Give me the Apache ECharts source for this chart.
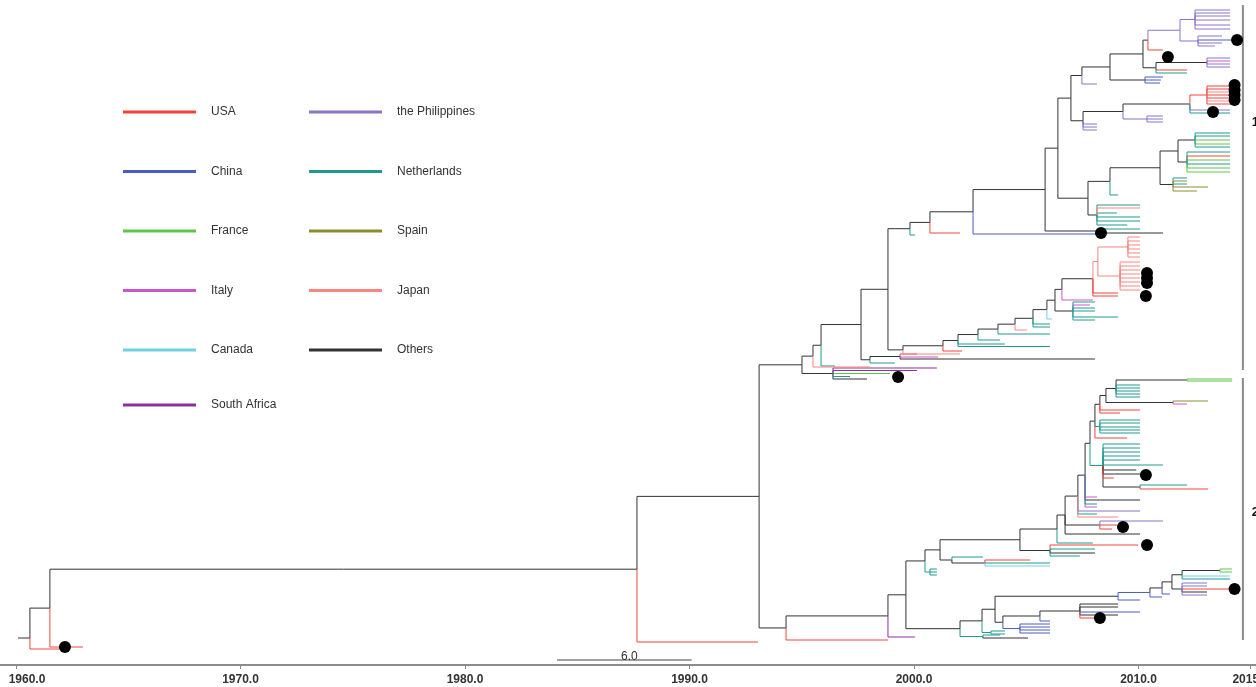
<!DOCTYPE html>
<html><head><meta charset="utf-8">
<script src="https://cdn.jsdelivr.net/npm/echarts@6/dist/echarts.min.js"></script>
<style>html,body{margin:0;padding:0;background:#fff}#c{width:1256px;height:687px}</style>
</head><body><div id="c"></div>
<script>
// ---------- DATA ----------
const countryNames  = ["USA","China","France","Italy","Canada","South Africa","the Philippines","Netherlands","Spain","Japan","Others"];
const countryCodes  = ["U","C","F","I","CA","SA","P","N","E","J","O"];
const countryColors = ["#f0443a","#4b5cbf","#5ec44b","#cc55cc","#72d0e2","#8e2f9e","#8a74c8","#1f9a90","#8c8c2e","#f88580","#333333"];

const tickYears = [1960,1970,1980,1990,2000,2010,2015];
const rootStemStart = 1960.09;

// branch = [nodeId ('-' for tip), parentId, time (year), country code, row (tips / override)]
const rootBranches = [
 ["N1",null,1960.62,"O",638],
 ["-","N1",1961.96,"U",649],
 ["N2","N1",1961.51,"O"],
 ["-","N2",1962.98,"U",647],
 ["D","N2",1987.66,"O"],
 ["-","D",1993.05,"U",642],
 ["E","D",1993.10,"O"],
 ["K","E",1995.01,"O"],
 ["F","E",1994.30,"O"]
];

const clade1Branches = [
 ["L","K",1995.50,"O"],
 ["K2","K",1996.39,"O"],
 ["-","K2",2001.02,"SA",368],
 ["-","K2",2000.13,"SA",370.5],
 ["-","K2",1998.93,"F",373.5],
 ["-","K2",1997.15,"N",376.5],
 ["-","K2",1997.91,"O",379],
 ["L1","L",1995.86,"O"],
 ["-","L",1998.04,"J",367],
 ["-","L1",1996.48,"N",366],
 ["N861","L1",1997.64,"O"],
 ["C362","N861",1998.04,"O"],
 ["C2","C362",1999.38,"O"],
 ["-","C2",2000.13,"U",354],
 ["-","C2",2001.07,"I",357],
 ["-","C2",2008.06,"O",359],
 ["-","C362",1999.15,"N",363],
 ["N888","N861",1998.84,"O"]
];

const japanLadderBranches = [
 ["JL0","N888",1999.51,"O"],
 ["JL1","JL0",2001.29,"O"],
 ["-","JL0",2002.05,"J",354],
 ["JL2","JL1",2001.96,"O"],
 ["-","JL1",2002.14,"U",351],
 ["JL3","JL2",2002.85,"O"],
 ["-","JL2",2004.05,"N",344],
 ["-","JL2",2006.06,"N",346.5],
 ["JL4","JL3",2003.74,"O"],
 ["-","JL3",2003.83,"N",340],
 ["JL5","JL4",2004.50,"O"],
 ["-","JL4",2006.06,"N",334],
 ["JL6","JL5",2005.30,"O"],
 ["-","JL5",2005.03,"J",330],
 ["JL8","JL6",2005.92,"O"],
 ["-","JL6",2006.06,"N",324],
 ["-","JL6",2006.06,"N",327],
 ["JL9","JL8",2006.28,"O"],
 ["-","JL8",2006.15,"CA",319],
 ["JL10","JL9",2006.59,"O"],
 ["JL11","JL9",2007.08,"O"],
 ["-","JL11",2008.06,"N",302],
 ["-","JL11",2007.84,"I",305],
 ["-","JL11",2008.06,"N",308],
 ["-","JL11",2008.06,"N",311],
 ["-","JL11",2009.09,"N",317],
 ["-","JL11",2008.06,"N",320],
 ["-","JL10",2007.97,"I",300],
 ["JL12","JL10",2007.97,"O"],
 ["-","JL12",2009.09,"U",293],
 ["-","JL12",2009.09,"U",296],
 ["JP","JL12",2008.19,"J"],
 ["JP1","JP",2009.18,"J"],
 ["JP2","JP",2009.53,"J"],
 ["-","JP1",2010.07,"J",262],["-","JP1",2010.07,"J",266],["-","JP1",2010.07,"J",270],["-","JP1",2010.07,"J",274],
 ["-","JP1",2010.07,"J",278],["-","JP1",2010.07,"J",282],["-","JP1",2010.07,"J",286],["-","JP1",2010.07,"J",290],
 ["-","JP2",2010.07,"J",237],["-","JP2",2010.07,"J",241],["-","JP2",2010.07,"J",245],
 ["-","JP2",2010.07,"J",249],["-","JP2",2010.07,"J",253],["-","JP2",2010.07,"J",257]
];

const clade1TopBranches = [
 ["n910","N888",1999.82,"O"],
 ["-","n910",2000.04,"N",235],
 ["n930","n910",2000.71,"O"],
 ["-","n930",2002.05,"U",233],
 ["n973","n930",2002.63,"O"],
 ["-","n973",2008.28,"C",234],
 ["n1045","n973",2005.84,"O"],
 ["n1100","n1045",2008.28,"O"],
 ["-","n1100",2011.09,"O",233],
 ["-","n1100",2010.07,"N",229],
 ["n1058","n1045",2006.41,"O"],
 ["n1088","n1058",2007.75,"O"],
 ["n1100b","n1088",2008.15,"O"],
 ["-","n1100b",2010.07,"N",205],
 ["-","n1100b",2010.07,"J",208],
 ["-","n1100b",2009.04,"N",213],
 ["-","n1100b",2010.07,"N",217],
 ["-","n1100b",2010.07,"N",221],
 ["-","n1100b",2009.50,"N",225],
 ["n1110","n1088",2008.73,"O"],
 ["-","n1110",2009.09,"N",195],
 ["n1160","n1110",2010.96,"O"],
 ["nA1","n1160",2011.76,"O"],
 ["nA1a","nA1",2012.52,"O"],
 ["-","nA1a",2014.08,"N",133],["-","nA1a",2014.08,"N",136],["-","nA1a",2014.08,"F",140],
 ["-","nA1a",2014.08,"F",144],["-","nA1a",2014.08,"N",147],
 ["nA1b","nA1",2012.16,"O"],
 ["-","nA1b",2014.08,"N",152],["-","nA1b",2014.08,"U",156],["-","nA1b",2014.08,"F",160],
 ["-","nA1b",2014.08,"N",164],["-","nA1b",2014.08,"F",168],["-","nA1b",2014.08,"F",172],
 ["nA2","n1160",2011.54,"O"],
 ["-","nA2",2012.16,"N",178],["-","nA2",2012.16,"E",181],["-","nA2",2012.16,"N",184],
 ["-","nA2",2013.10,"E",187],["-","nA2",2012.60,"E",191],
 ["n1071","n1058",2006.99,"O"],
 ["n1083","n1071",2007.53,"O"],
 ["-","n1083",2008.15,"P",124],["-","n1083",2008.15,"P",127],["-","n1083",2008.15,"P",130],
 ["n1123","n1083",2009.31,"O"],
 ["n1147","n1123",2010.38,"P"],
 ["-","n1147",2011.09,"P",116],["-","n1147",2011.09,"P",119],["-","n1147",2011.09,"P",122],
 ["n1190","n1123",2012.29,"O"],
 ["-","n1190",2014.08,"P",110],
 ["-","n1190",2014.08,"N",113],
 ["n1207","n1190",2013.05,"U"],
 ["-","n1207",2014.21,"U",86],["-","n1207",2014.21,"U",89],["-","n1207",2014.21,"J",92],
 ["-","n1207",2014.21,"U",95],["-","n1207",2014.21,"U",98],["-","n1207",2014.21,"J",101],
 ["-","n1207",2014.21,"U",104],
 ["n1082","n1071",2007.48,"O"],
 ["-","n1082",2008.15,"P",84],
 ["nU1","n1082",2008.73,"O"],
 ["nU3","nU1",2010.29,"O"],
 ["-","nU3",2011.09,"C",77],["-","nU3",2011.00,"C",80],["-","nU3",2010.96,"C",83],
 ["nU2","nU1",2010.20,"O"],
 ["nU5","nU2",2010.78,"O"],
 ["-","nU5",2012.16,"U",70],
 ["-","nU5",2012.16,"N",73],
 ["n1207b","nU5",2013.05,"O"],
 ["-","n1207b",2014.08,"P",58],["-","n1207b",2014.08,"I",61],
 ["-","n1207b",2014.08,"P",64],["-","n1207b",2014.08,"P",67],
 ["nU4","nU2",2010.42,"O"],
 ["-","nU4",2011.09,"U",50],
 ["nU6","nU4",2011.85,"P"],
 ["nP1","nU6",2012.52,"P"],
 ["-","nP1",2014.08,"P",10],["-","nP1",2014.08,"P",13],["-","nP1",2014.08,"P",16],
 ["-","nP1",2014.08,"P",20],["-","nP1",2014.08,"P",25],["-","nP1",2014.08,"P",29],
 ["nP2","nU6",2012.65,"P"],
 ["-","nP2",2013.72,"P",36],["-","nP2",2014.21,"C",40],
 ["-","nP2",2013.72,"P",43],["-","nP2",2013.41,"P",46]
];

const clade2Branches = [
 ["G","F",1998.84,"O"],
 ["-","F",1998.84,"U",640],
 ["H","G",1999.64,"O"],
 ["-","G",2000.04,"SA",637],
 ["I","H",2000.49,"O"],
 ["P","H",2002.05,"O"],
 ["Q","P",2003.03,"O"],
 ["P3","P",2003.07,"N"],
 ["-","P3",2005.08,"O",638],
 ["-","P3",2003.83,"N",635],
 ["S","Q",2003.61,"O"],
 ["Q2","Q",2003.43,"N"],
 ["-","Q2",2004.05,"N",631],
 ["-","Q2",2004.05,"N",634],
 ["CN","S",2003.96,"O"],
 ["CN1","CN",2004.72,"C"],
 ["-","CN1",2006.06,"C",624],["-","CN1",2006.06,"C",627],
 ["-","CN1",2006.06,"C",630],["-","CN1",2006.06,"C",633],
 ["CN2","CN",2005.61,"O"],
 ["-","CN2",2006.06,"C",621],
 ["CN3","CN2",2007.39,"O"],
 ["-","CN3",2009.09,"O",604],
 ["-","CN3",2009.09,"O",607],
 ["-","CN3",2010.07,"C",612],
 ["-","CN3",2009.09,"O",615],
 ["-","CN3",2008.37,"U",618],
 ["T","S",2009.09,"O"],
 ["-","T",2010.07,"C",600],
 ["T2","T",2010.51,"C"],
 ["-","T2",2011.05,"C",597],
 ["T3","T2",2011.05,"O"],
 ["-","T3",2011.40,"C",594],
 ["T4","T3",2011.49,"O"],
 ["T5","T4",2011.94,"O"],
 ["T5a","T5",2013.63,"O"],
 ["-","T5a",2014.17,"F",569],
 ["-","T5a",2014.17,"F",572],
 ["-","T5",2014.08,"CA",576],
 ["-","T5",2014.08,"N",579],
 ["T6","T4",2011.94,"O"],
 ["-","T6",2013.05,"P",583],["-","T6",2013.05,"P",586],["-","T6",2014.21,"U",589],
 ["-","T6",2013.05,"O",592],["-","T6",2013.05,"P",595]
];

const clade2LadderBranches = [
 ["Ia","I",2000.71,"N"],
 ["-","Ia",2001.02,"N",569],["-","Ia",2001.02,"N",572],["-","Ia",2001.02,"N",575],
 ["I2","I",2001.16,"O"],
 ["M2","I2",2001.69,"O"],
 ["-","M2",2003.07,"N",557],
 ["M3","M2",2003.16,"O"],
 ["-","M3",2005.17,"U",560],
 ["-","M3",2006.06,"N",563],
 ["-","M3",2006.06,"CA",566],
 ["J","I2",2004.72,"O"],
 ["J2","J",2006.06,"O"],
 ["-","J2",2009.98,"U",545],
 ["-","J2",2008.06,"N",549],
 ["-","J2",2008.06,"O",553],
 ["-","J2",2007.39,"N",556],
 ["Z1","J",2006.37,"O"],
 ["-","Z1",2007.97,"N",543],
 ["Z2","Z1",2006.73,"O"],
 ["-","Z2",2010.07,"O",534],
 ["Z2b","Z2",2008.28,"O"],
 ["-","Z2b",2011.09,"P",521],
 ["-","Z2b",2009.04,"U",525],
 ["-","Z2b",2008.82,"U",529],
 ["Z3","Z2",2007.30,"O"],
 ["-","Z3",2010.07,"P",511],
 ["-","Z3",2008.15,"N",514],
 ["-","Z3",2009.09,"J",517],
 ["Z4","Z3",2007.62,"O"],
 ["-","Z4",2010.07,"O",500],
 ["-","Z4",2008.15,"I",497],
 ["-","Z4",2008.15,"N",504],
 ["-","Z4",2008.15,"I",507],
 ["Z5","Z4",2007.84,"O"],
 ["Z5b","Z5",2008.42,"N"],
 ["-","Z5b",2010.07,"N",444],["-","Z5b",2010.07,"N",448],["-","Z5b",2010.07,"N",452],
 ["-","Z5b",2010.07,"N",456],["-","Z5b",2010.07,"N",460],["-","Z5b",2011.09,"N",465],
 ["-","Z5b",2009.90,"O",470],["-","Z5b",2010.07,"O",474],["-","Z5b",2008.90,"U",478],
 ["Z5c","Z5b",2010.07,"O"],
 ["-","Z5c",2012.16,"N",485],
 ["-","Z5c",2013.10,"U",489],
 ["Z6","Z5",2008.06,"O"],
 ["-","Z6",2009.49,"U",438],
 ["Z6b","Z6",2008.28,"N"],
 ["-","Z6b",2010.07,"N",420],["-","Z6b",2010.07,"N",423],["-","Z6b",2010.07,"N",427],
 ["-","Z6b",2010.07,"N",430],["-","Z6b",2010.07,"N",433],
 ["Z7","Z6",2008.28,"O"],
 ["-","Z7",2010.07,"U",410],
 ["-","Z7",2009.18,"U",413],
 ["Z8","Z7",2008.55,"O"],
 ["Z8b","Z8",2011.54,"O"],
 ["-","Z8b",2013.10,"E",401],
 ["-","Z8b",2012.16,"I",404],
 ["Z9","Z8",2009.00,"O"],
 ["Z9a","Z9",2012.16,"O"],
 ["-","Z9a",2014.17,"F",379],
 ["-","Z9a",2014.17,"F",381],
 ["-","Z9",2010.07,"N",385],["-","Z9",2010.07,"N",388],["-","Z9",2010.07,"N",391],
 ["-","Z9",2010.07,"N",394],["-","Z9",2010.07,"N",397]
];

// sampled tips (black dots): [year, row]
const dotPoints = [
 [1962.18,647],[1999.29,377],[2008.33,233],[2010.38,273],[2010.38,278],[2010.38,283],
 [2010.33,296],[2011.31,57],[2014.39,40],[2014.28,85],[2014.28,90],[2014.28,95],
 [2014.28,100],[2013.32,112],[2010.33,475],[2009.31,527],[2010.38,545],[2008.28,618],[2014.28,589]
];

// clade bars on the right
const groupLabels   = ["1","2"];
const groupStartRow = [5,378];
const groupEndRow   = [370,640];
const groupLabelRow = [122,512];
const groupBarYear  = 2014.65;
const groupTextYear = 2015.05;

// scale bar
const scaleBarStart = 1984.10;
const scaleBarLength = 6.0;
const scaleBarRow = 660;

// ---------- BUILD TREE ----------
const allBranches = [].concat(rootBranches, clade1Branches, japanLadderBranches, clade1TopBranches, clade2Branches, clade2LadderBranches);
const nodes = {}, list = [];
allBranches.forEach((b, i) => {
  const n = { id: b[0] === '-' ? '_t' + i : b[0], parent: b[1], time: b[2], code: b[3], y: b.length > 4 ? b[4] : null, children: [] };
  nodes[n.id] = n; list.push(n);
});
list.forEach(n => { if (n.parent) nodes[n.parent].children.push(n); });
function setY(n) {
  if (!n.children.length) return n.y;
  const ys = n.children.map(setY);
  if (n.y == null) n.y = (Math.min(...ys) + Math.max(...ys)) / 2;
  return n.y;
}
const root = list.find(n => !n.parent);
setY(root);

const segs = {};
countryCodes.forEach(c => segs[c] = []);
list.forEach(n => {
  if (n.parent) { const p = nodes[n.parent]; segs[n.code].push([p.time, n.time, n.y, p.y]); }
  else segs[n.code].push([rootStemStart, n.time, n.y, n.y]);
});

const FONT = '"Liberation Sans", Arial, Helvetica, sans-serif';

function branchRender(params, api) {
  const a = api.coord([api.value(0), api.value(3)]);
  const b = api.coord([api.value(0), api.value(2)]);
  const c = api.coord([api.value(1), api.value(2)]);
  return { type: 'polyline', shape: { points: [a, b, c] }, style: { stroke: api.visual('color'), fill: null, lineWidth: 1 } };
}

const series = [];
const order = [10,0,1,2,3,4,5,6,7,8,9];
order.forEach(k => {
  series.push({
    type: 'custom', name: countryNames[k], renderItem: branchRender, data: segs[countryCodes[k]],
    encode: { x: [0,1], y: [2,3] }, itemStyle: { color: countryColors[k] }, silent: true, clip: false,
    z: k === 10 ? 2 : 3
  });
});
series.push({
  type: 'scatter', name: 'samples', data: dotPoints, symbolSize: 12, itemStyle: { color: '#000', opacity: 1 }, z: 6, silent: true
});
series.push({
  type: 'custom', name: 'groups', silent: true, clip: false, z: 4,
  data: groupLabels.map((g, i) => [groupBarYear, groupStartRow[i], groupEndRow[i], groupLabelRow[i], groupTextYear]),
  encode: { x: [0,4], y: [1,2] },
  renderItem: (params, api) => {
    const i = params.dataIndex;
    const p0 = api.coord([api.value(0), api.value(1)]);
    const p1 = api.coord([api.value(0), api.value(2)]);
    const pt = api.coord([api.value(4), api.value(3)]);
    return { type: 'group', children: [
      { type: 'line', shape: { x1: p0[0], y1: p0[1], x2: p1[0], y2: p1[1] }, style: { stroke: '#8a8a8a', lineWidth: 2 } },
      { type: 'text', x: pt[0], y: pt[1], style: { text: groupLabels[i], fill: '#111', font: 'bold 13px ' + FONT, align: 'left', verticalAlign: 'middle' } }
    ]};
  }
});
series.push({
  type: 'custom', name: 'scalebar', silent: true, clip: false, z: 4,
  data: [[scaleBarStart, scaleBarStart + scaleBarLength, scaleBarRow]],
  encode: { x: [0,1], y: [2] },
  renderItem: (params, api) => {
    const a = api.coord([api.value(0), api.value(2)]);
    const b = api.coord([api.value(1), api.value(2)]);
    return { type: 'group', children: [
      { type: 'line', shape: { x1: a[0], y1: a[1], x2: b[0], y2: b[1] }, style: { stroke: '#444', lineWidth: 1 } },
      { type: 'text', x: (a[0] + b[0]) / 2 + 5, y: a[1] - 3, style: { text: scaleBarLength.toFixed(1), fill: '#333', font: '12px ' + FONT, align: 'center', verticalAlign: 'middle' } }
    ]};
  }
});

const legendBase = {
  orient: 'vertical', itemWidth: 73, itemHeight: 3, itemGap: 41.5, icon: 'rect', padding: 0, selectedMode: false,
  textStyle: { fontSize: 12, color: '#333', lineHeight: 16, padding: [2,0,0,10], fontFamily: FONT }
};

const option = {
  animation: false,
  backgroundColor: '#fff',
  grid: { left: 0, right: 0, top: 0, bottom: 22, containLabel: false, outerBoundsMode: 'none' },
  xAxis: {
    type: 'value', min: 1959.287, max: 2015.234, position: 'bottom',
    axisLine: { show: true, onZero: false, lineStyle: { color: '#8c8c8c', width: 2 } },
    axisTick: { show: true, customValues: tickYears, length: 4, lineStyle: { color: '#8c8c8c', width: 1 } },
    axisLabel: {
      show: true, customValues: tickYears,
      formatter: v => (v === tickYears[0] ? '{first|' : '{n|') + Number(v).toFixed(1) + '}',
      rich: {
        first: { fontWeight: 'bold', fontSize: 12, color: '#333', fontFamily: FONT, padding: [0,0,0,22] },
        n: { fontWeight: 'bold', fontSize: 12, color: '#333', fontFamily: FONT }
      },
      margin: 9
    },
    splitLine: { show: false }
  },
  yAxis: { type: 'value', min: 0, max: 665, inverse: true, show: false },
  legend: [
    Object.assign({}, legendBase, { data: countryNames.slice(0,5), left: 123, top: 103 }),
    Object.assign({}, legendBase, { data: [countryNames[5]], left: 123, top: 396 }),
    Object.assign({}, legendBase, { data: countryNames.slice(6), left: 309, top: 103 })
  ],
  series: series
};

const chart = echarts.init(document.getElementById('c'), null, { renderer: 'canvas' });
chart.setOption(option);
</script>
</body></html>
